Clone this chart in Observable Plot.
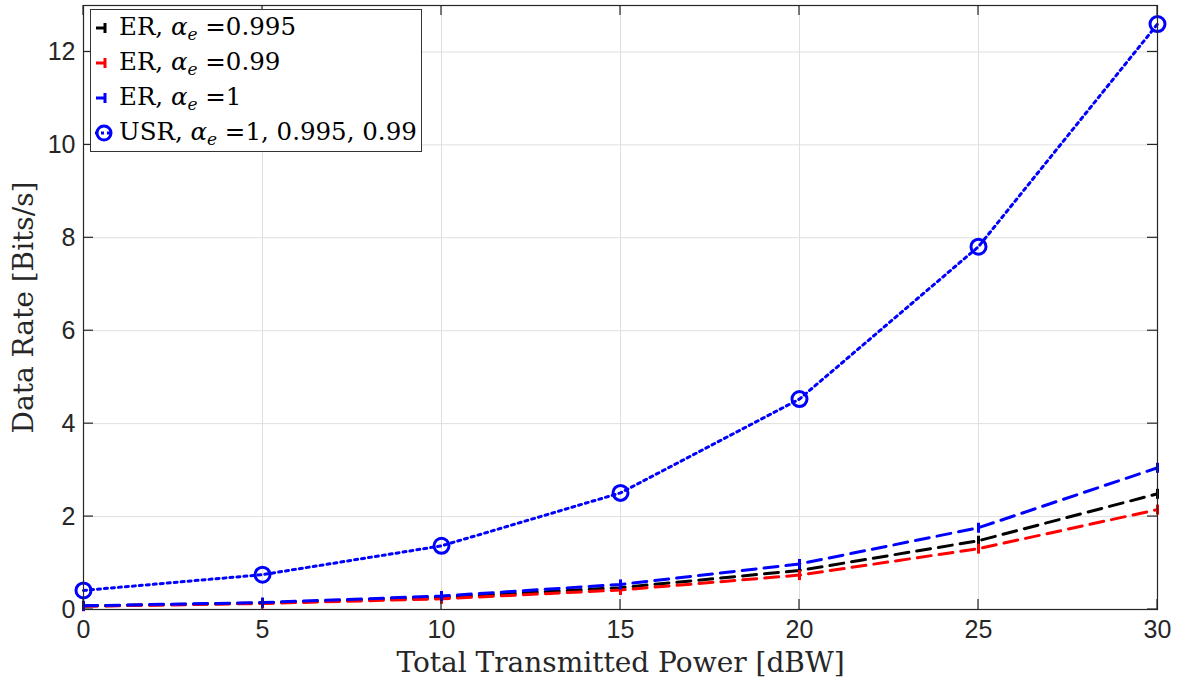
<!DOCTYPE html>
<html>
<head>
<meta charset="utf-8">
<script src="https://cdn.jsdelivr.net/npm/d3@7"></script>
<script src="https://cdn.jsdelivr.net/npm/@observablehq/plot@0.6"></script>
<style>
  html, body { margin: 0; padding: 0; background: #fff; }
  #wrap { position: relative; width: 1181px; height: 691px; }
  #legend {
    position: absolute; left: 90px; top: 9px; width: 332px; height: 143px;
    border: 1px solid #333; background: #fff; box-sizing: border-box;
    font-family: "DejaVu Serif", "Liberation Serif", serif; font-size: 24.5px; color: #000;
  }
  .row { position: absolute; left: 0; height: 34px; display: flex; align-items: center; white-space: nowrap; }
  .row svg { margin-right: 2px; }
  sub { font-size: 17px; vertical-align: -5px; }
</style>
</head>
<body>
<div id="wrap"></div>
<script>
const power = [0, 5, 10, 15, 20, 25, 30];
const usrRate = [0.41, 0.75, 1.37, 2.51, 4.53, 7.81, 12.6];
const er995 = [0.075, 0.14, 0.26, 0.47, 0.84, 1.48, 2.49];
const er99 = [0.07, 0.13, 0.23, 0.42, 0.74, 1.31, 2.15];
const er1 = [0.08, 0.15, 0.29, 0.54, 0.98, 1.76, 3.05];
const xTicks = [0, 5, 10, 15, 20, 25, 30];
const yTicks = [0, 2, 4, 6, 8, 10, 12];
const seriesNames = ["ER, α_e =0.995", "ER, α_e =0.99", "ER, α_e =1", "USR, α_e =1, 0.995, 0.99"];
const seriesColors = ["#000000", "#ff0000", "#0000ff", "#0000ff"];

const rows = (vals, s) => power.map((p, i) => ({x: p, y: vals[i], s}));
const erData = [...rows(er995, 0), ...rows(er99, 1), ...rows(er1, 2)];
const usrData = rows(usrRate, 3);

const vtick = { draw(ctx, size) { const h = 5; ctx.moveTo(0, -h); ctx.lineTo(0, h); } };

const sans = "'Liberation Sans', Arial, Helvetica, sans-serif";
const serif = "'DejaVu Serif', 'Liberation Serif', serif";

const chart = Plot.plot({
  width: 1181, height: 691,
  marginLeft: 83, marginRight: 24, marginTop: 5, marginBottom: 82,
  x: {domain: [0, 30]},
  y: {domain: [0, 13]},
  style: {background: "#fff"},
  marks: [
    Plot.gridX(xTicks, {stroke: "#dfdfdf", strokeOpacity: 1, strokeWidth: 1}),
    Plot.gridY(yTicks, {stroke: "#dfdfdf", strokeOpacity: 1, strokeWidth: 1}),
    Plot.line(erData, {x: "x", y: "y", z: "s", stroke: d => seriesColors[d.s], strokeWidth: 3, strokeDasharray: "14,8"}),
    Plot.dot(erData, {x: "x", y: "y", stroke: d => seriesColors[d.s], symbol: vtick, r: 5, strokeWidth: 3}),
    Plot.line(usrData, {x: "x", y: "y", stroke: "#0000ff", strokeWidth: 3, strokeDasharray: "3,4"}),
    Plot.dot(usrData, {x: "x", y: "y", stroke: "#0000ff", r: 7.5, strokeWidth: 3, fill: "none"}),
    Plot.frame({stroke: "#262626", strokeWidth: 1.2}),
    Plot.axisX(xTicks, {anchor: "bottom", tickSize: 0, tickPadding: 11, fontSize: 25, fontFamily: sans, fill: "#262626", label: null}),
    Plot.axisY(yTicks, {anchor: "left", tickSize: 0, tickPadding: 8, fontSize: 25, fontFamily: sans, fill: "#262626", label: null}),
    Plot.text(["Total Transmitted Power [dBW]"], {frameAnchor: "bottom", textAnchor: "middle", lineAnchor: "bottom", dy: 62, fontSize: 28, fontFamily: serif, fill: "#262626"}),
    Plot.text(["Data Rate [Bits/s]"], {frameAnchor: "left", textAnchor: "middle", dx: -59, rotate: -90, fontSize: 28, fontFamily: serif, fill: "#262626"})
  ]
});

// inward MATLAB-style tick marks drawn from the plot scales
const svg = d3.select(chart);
const xs = chart.scale("x"), ys = chart.scale("y");
const tg = svg.append("g").attr("stroke", "#262626").attr("stroke-width", 1.2);
const [yb, yt] = [ys.apply(0), ys.apply(13)];
const [xl, xr] = [xs.apply(0), xs.apply(30)];
xTicks.forEach(t => {
  const px = xs.apply(t);
  tg.append("line").attr("x1", px).attr("x2", px).attr("y1", yb).attr("y2", yb - 10);
  tg.append("line").attr("x1", px).attr("x2", px).attr("y1", yt).attr("y2", yt + 10);
});
yTicks.forEach(t => {
  const py = ys.apply(t);
  tg.append("line").attr("x1", xl).attr("x2", xl + 10).attr("y1", py).attr("y2", py);
  tg.append("line").attr("x1", xr).attr("x2", xr - 10).attr("y1", py).attr("y2", py);
});

const wrap = document.getElementById("wrap");
wrap.appendChild(chart);

const legend = document.createElement("div");
legend.id = "legend";
seriesNames.forEach((name, i) => {
  const row = document.createElement("div");
  row.className = "row";
  row.style.top = (1 + i * 35) + "px";
  const c = seriesColors[i];
  let icon;
  if (i < 3) {
    icon = `<svg width="26" height="20"><line x1="5" x2="14" y1="10" y2="10" stroke="${c}" stroke-width="3"/><line x1="14" x2="14" y1="5" y2="15" stroke="${c}" stroke-width="3"/></svg>`;
  } else {
    icon = `<svg width="26" height="20"><line x1="4" x2="22" y1="10" y2="10" stroke="${c}" stroke-width="3" stroke-dasharray="3,3"/><circle cx="13" cy="10" r="7" fill="none" stroke="${c}" stroke-width="3"/></svg>`;
  }
  const [pre, post] = name.split("α_e");
  row.innerHTML = icon + `<span>${pre}<i>α</i><sub><i>e</i></sub>${post}</span>`;
  legend.appendChild(row);
});
wrap.appendChild(legend);
</script>
</body>
</html>
